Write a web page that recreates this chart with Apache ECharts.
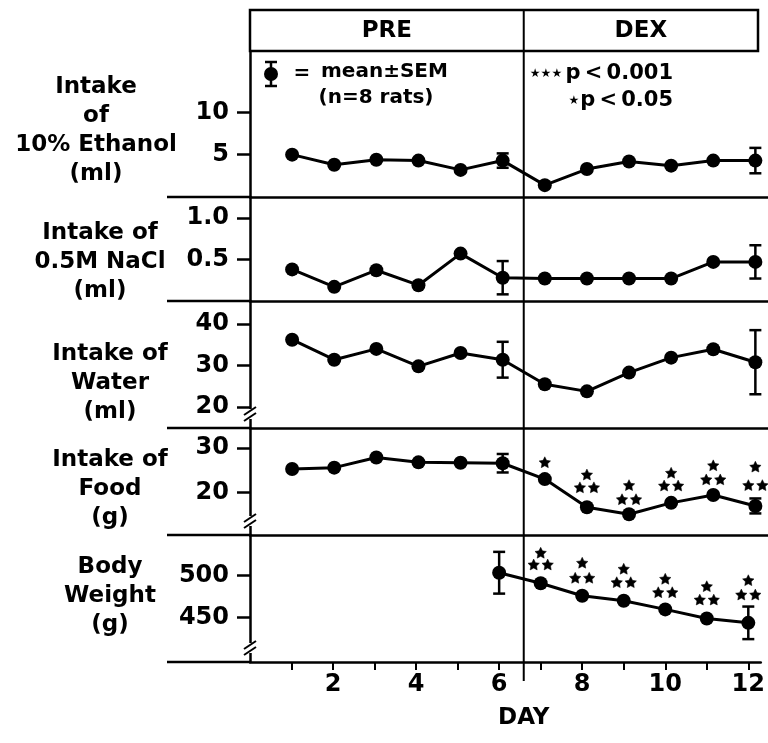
<!DOCTYPE html>
<html>
<head>
<meta charset="utf-8">
<script src="https://cdn.jsdelivr.net/npm/echarts@6/dist/echarts.min.js"></script>
<style>
  html, body { margin: 0; padding: 0; background: #fff; }
  #chart { width: 768px; height: 743px; }
</style>
</head>
<body>
<div id="chart"></div>
<script>
// values (day 1-12)
const days = [1, 2, 3, 4, 5, 6, 7, 8, 9, 10, 11, 12];
const ethanol = [5.0, 3.8, 4.4, 4.3, 3.2, 4.3, 1.4, 3.3, 4.2, 3.7, 4.3, 4.3];
const nacl = [0.38, 0.17, 0.37, 0.19, 0.57, 0.28, 0.27, 0.27, 0.27, 0.27, 0.47, 0.47];
const water = [36.2, 31.4, 34.0, 29.8, 33.0, 31.4, 25.5, 23.8, 28.3, 31.9, 33.9, 30.8];
const food = [25.3, 25.6, 27.9, 26.8, 26.7, 26.6, 23.0, 16.6, 15.0, 17.6, 19.4, 16.9];
const bodyWeight = [null, null, null, null, null, 503.6, 491, 476, 470, 459.7, 448.8, 443.6];

// SEM bars are only drawn on day 6 and day 12
const semDays = [6, 12];
const ethanolSem = [0.85, 1.5];
const naclSem = [0.2, 0.2];
const waterSem = [4.3, 7.7];
const foodSem = [2.1, 1.7];
const bodySem = [25, 19.5];

// significance stars (1 = p<0.05, 3 = p<0.001)
const starDays = [7, 8, 9, 10, 11, 12];
const foodStarCount = [1, 3, 3, 3, 3, 3];
const foodStarTop = [26.7, 23.9, 21.5, 24.3, 26.0, 25.7];
const foodStarLow = [null, 21.0, 18.3, 21.4, 22.8, 21.5];
const bodyStarCount = [3, 3, 3, 3, 3, 3];
const bodyStarTop = [526.9, 514.9, 507.7, 495.7, 486.8, 494.0];
const bodyStarLow = [512.8, 496.9, 491.6, 479.6, 470.8, 476.8];

// tick labels
const ethanolTicks = [5, 10];
const naclTicks = [0.5, 1.0];
const waterTicks = [20, 30, 40];
const foodTicks = [20, 30];
const bodyTicks = [450, 500];
const dayTicks = [1, 2, 3, 4, 5, 6, 7, 8, 9, 10, 11, 12];
const dayLabels = [2, 4, 6, 8, 10, 12];

const FONT = 'DejaVu Sans';
const LEFT = 250, WIDTH = 518, XMAX = 12.3;
const AXW = 2.5;

const panels = [
  { name: 'Intake\nof\n10% Ethanol\n(ml)', top: 51, height: 146, min: 0, max: 17.24, ticks: ethanolTicks, vals: ethanol, sem: ethanolSem, nameY: 131, nameX: 96, brk: false },
  { name: 'Intake of\n0.5M NaCl\n(ml)', top: 197, height: 104, min: 0, max: 1.25, ticks: naclTicks, vals: nacl, sem: naclSem, nameY: 262, nameX: 100, brk: false, fmt: v => v.toFixed(1) },
  { name: 'Intake of\nWater\n(ml)', top: 301, height: 127, min: 15.0, max: 45.5, ticks: waterTicks, vals: water, sem: waterSem, nameY: 383, nameX: 110, brk: true },
  { name: 'Intake of\nFood\n(g)', top: 428, height: 107, min: 10.3, max: 34.6, ticks: foodTicks, vals: food, sem: foodSem, nameY: 489, nameX: 110, brk: true },
  { name: 'Body\nWeight\n(g)', top: 535, height: 127, min: 396.7, max: 548.8, ticks: bodyTicks, vals: bodyWeight, sem: bodySem, nameY: 596, nameX: 110, brk: true }
];

// one star on top, and for p<0.001 two more side by side below it
// third item is the side shift: -1 left, 0 centre, 1 right
function starData(count, top, low) {
  const out = [];
  starDays.forEach((d, i) => {
    out.push([d, top[i], 0]);
    if (count[i] === 3) {
      out.push([d, low[i], -1]);
      out.push([d, low[i], 1]);
    }
  });
  return out;
}

// filled five-point star polygon around a pixel centre
function starPoints(cx, cy, r) {
  const pts = [];
  for (let k = 0; k < 10; k++) {
    const rr = k % 2 === 0 ? r : r * 0.5;
    const a = -Math.PI / 2 + k * Math.PI / 5;
    pts.push([cx + rr * Math.cos(a), cy + rr * Math.sin(a)]);
  }
  return pts;
}

function starSeries(idx, data) {
  return {
    type: 'custom', xAxisIndex: idx, yAxisIndex: idx, data: data, z: 5,
    renderItem: (params, api) => {
      const c = api.coord([api.value(0), api.value(1)]);
      return {
        type: 'polygon',
        shape: { points: starPoints(c[0] + api.value(2) * 7, c[1], 6) },
        style: { fill: '#000', stroke: '#000', lineWidth: 0.5 }
      };
    }
  };
}

const chart = echarts.init(document.getElementById('chart'));
const grids = [], xAxes = [], yAxes = [], series = [], graphics = [];
const last = panels.length - 1;

panels.forEach((p, i) => {
  grids.push({ left: LEFT, top: p.top, width: WIDTH, height: p.height });
  xAxes.push({
    gridIndex: i, type: 'value', min: 0, max: XMAX,
    axisLine: { show: true, lineStyle: { color: '#000', width: AXW } },
    axisTick: i === last ? { show: true, customValues: dayTicks, length: 8, lineStyle: { color: '#000', width: 2 } } : { show: false },
    axisLabel: i === last ? { show: true, customValues: dayLabels, margin: 11, color: '#000', fontFamily: FONT, fontWeight: 'bold', fontSize: 24 } : { show: false },
    splitLine: { show: false }
  });
  yAxes.push({
    gridIndex: i, type: 'value', min: p.min, max: p.max,
    axisLine: { show: true, lineStyle: { color: '#000', width: AXW } },
    axisTick: { show: true, customValues: p.ticks, length: 13, lineStyle: { color: '#000', width: 2.5 } },
    axisLabel: { show: true, customValues: p.ticks, margin: 21, color: '#000', fontFamily: FONT, fontWeight: 'bold', fontSize: 24, formatter: p.fmt || (v => String(v)) },
    splitLine: { show: false }
  });
  series.push({
    type: 'line', xAxisIndex: i, yAxisIndex: i,
    data: days.map((d, k) => [d, p.vals[k]]).filter(v => v[1] != null),
    symbol: 'circle', symbolSize: 14,
    itemStyle: { color: '#000' },
    lineStyle: { color: '#000', width: 3 },
    z: 3
  });
  series.push({
    type: 'custom', xAxisIndex: i, yAxisIndex: i,
    data: semDays.map((d, k) => [d, p.vals[days.indexOf(d)], p.sem[k]]),
    renderItem: (params, api) => {
      const x = api.value(0), y = api.value(1), s = api.value(2);
      const hi = api.coord([x, y + s]), lo = api.coord([x, y - s]);
      const st = { stroke: '#000', lineWidth: 2.5 };
      return {
        type: 'group', children: [
          { type: 'line', shape: { x1: hi[0], y1: hi[1], x2: lo[0], y2: lo[1] }, style: st },
          { type: 'line', shape: { x1: hi[0] - 6, y1: hi[1], x2: hi[0] + 6, y2: hi[1] }, style: st },
          { type: 'line', shape: { x1: lo[0] - 6, y1: lo[1], x2: lo[0] + 6, y2: lo[1] }, style: st }
        ]
      };
    },
    z: 4
  });
  // panel name on the left
  graphics.push({
    type: 'text', x: p.nameX, y: p.nameY,
    style: { text: p.name, fill: '#000', font: 'bold 23px ' + FONT, align: 'center', verticalAlign: 'middle', lineHeight: 29 }
  });
  // separator extends left of the axis
  const yb = p.top + p.height;
  graphics.push({ type: 'line', shape: { x1: 167, y1: yb, x2: LEFT, y2: yb }, style: { stroke: '#000', lineWidth: AXW } });
  if (p.brk) {
    const yk = yb - 14;
    graphics.push({ type: 'rect', shape: { x: LEFT - 3, y: yk - 5, width: 6, height: 10 }, style: { fill: '#fff' }, z: 10 });
    graphics.push({ type: 'line', shape: { x1: LEFT - 6, y1: yk + 1, x2: LEFT + 6, y2: yk - 7 }, style: { stroke: '#000', lineWidth: 2 }, z: 11 });
    graphics.push({ type: 'line', shape: { x1: LEFT - 6, y1: yk + 7, x2: LEFT + 6, y2: yk - 1 }, style: { stroke: '#000', lineWidth: 2 }, z: 11 });
  }
});

series.push(starSeries(3, starData(foodStarCount, foodStarTop, foodStarLow)));
series.push(starSeries(4, starData(bodyStarCount, bodyStarTop, bodyStarLow)));

// header box, PRE / DEX divider and legend
const divX = LEFT + 6.5 * WIDTH / XMAX;
const txt = (t, x, y, size, align) => ({
  type: 'text', x: x, y: y,
  style: { text: t, fill: '#000', font: 'bold ' + size + 'px ' + FONT, align: align || 'center', verticalAlign: 'middle' }
});
graphics.push(
  { type: 'rect', shape: { x: LEFT, y: 10, width: 508, height: 41 }, style: { fill: 'none', stroke: '#000', lineWidth: AXW } },
  { type: 'line', shape: { x1: divX, y1: 10, x2: divX, y2: 681 }, style: { stroke: '#000', lineWidth: 2 } },
  txt('PRE', (LEFT + divX) / 2, 31, 23),
  txt('DEX', (divX + 758) / 2, 31, 23),
  { type: 'line', shape: { x1: 271, y1: 62, x2: 271, y2: 86 }, style: { stroke: '#000', lineWidth: 2.5 } },
  { type: 'line', shape: { x1: 265, y1: 62, x2: 277, y2: 62 }, style: { stroke: '#000', lineWidth: 2.5 } },
  { type: 'line', shape: { x1: 265, y1: 86, x2: 277, y2: 86 }, style: { stroke: '#000', lineWidth: 2.5 } },
  { type: 'circle', shape: { cx: 271, cy: 74, r: 7 }, style: { fill: '#000' } },
  txt('=', 302, 74, 20),
  txt('mean\u00b1SEM', 321, 72, 20, 'left'),
  txt('(n=8 rats)', 376, 98, 20),
  txt('\u2605\u2605\u2605', 546, 74, 12),
  txt('p\u2009<\u20090.001', 673, 74, 21, 'right'),
  txt('\u2605', 574, 101, 12),
  txt('p\u2009<\u20090.05', 673, 101, 21, 'right'),
  txt('DAY', divX, 718, 23)
);

chart.setOption({
  animation: false,
  grid: grids,
  xAxis: xAxes,
  yAxis: yAxes,
  series: series,
  graphic: graphics
});
</script>
</body>
</html>
